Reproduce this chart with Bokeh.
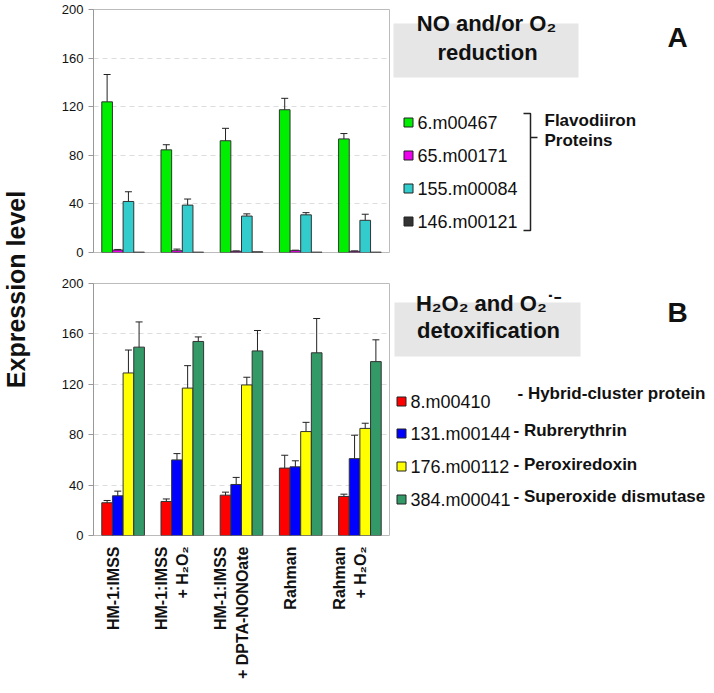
import math
from bokeh.plotting import figure
from bokeh.models import Range1d, ColumnDataSource, Whisker, TeeHead, FixedTicker
from bokeh.layouts import row, column
from bokeh.core.properties import value
from bokeh.embed import file_html
from bokeh.resources import INLINE

# ---------------- data ----------------
conditions = [["HM-1:IMSS"],
              ["HM-1:IMSS", "+ H\u2082O\u2082"],
              ["HM-1:IMSS", "+ DPTA-NONOate"],
              ["Rahman"],
              ["Rahman", "+ H\u2082O\u2082"]]

ids_a = ["6.m00467", "65.m00171", "155.m00084", "146.m00121"]
colors_a = ["#00ee00", "#ee00ee", "#33cccc", "#333333"]
a_6m00467 = [124, 84.5, 92, 117.5, 93.5]
a_6m00467_err = [22.5, 4.2, 10.2, 9.4, 4.4]
a_65m00171 = [2, 1.5, 1, 1.5, 1]
a_65m00171_err = [0.5, 1.3, 0.3, 0.4, 0.3]
a_155m00084 = [42, 39, 30, 31, 26.5]
a_155m00084_err = [8, 5, 1.8, 1.8, 5]
a_146m00121 = [0.3, 0.3, 0.6, 0.3, 0.3]
a_146m00121_err = [0, 0, 0, 0, 0]
series_a = [(a_6m00467, a_6m00467_err), (a_65m00171, a_65m00171_err),
            (a_155m00084, a_155m00084_err), (a_146m00121, a_146m00121_err)]

ids_b = ["8.m00410", "131.m00144", "176.m00112", "384.m00041"]
desc_b = ["- Hybrid-cluster protein", "- Rubrerythrin", "- Peroxiredoxin", "- Superoxide dismutase"]
colors_b = ["#ff0000", "#0000ff", "#ffff00", "#339966"]
b_8m00410 = [26, 27, 32, 53.5, 31]
b_8m00410_err = [1.8, 2, 2.4, 10.2, 1.8]
b_131m00144 = [31.5, 60, 40.5, 54.5, 61]
b_131m00144_err = [3.7, 5, 5.6, 4.8, 18.6]
b_176m00112 = [129, 117, 119.5, 82.5, 85]
b_176m00112_err = [18.2, 17.8, 6.1, 7.3, 4.1]
b_384m00041 = [149.5, 154, 146.5, 145, 138]
b_384m00041_err = [20, 3.6, 16.2, 27.2, 17.3]
series_b = [(b_8m00410, b_8m00410_err), (b_131m00144, b_131m00144_err),
            (b_176m00112, b_176m00112_err), (b_384m00041, b_384m00041_err)]

y_ticks = [0, 40, 80, 120, 160, 200]

FONT = "Liberation Sans"
BAR_W = 0.18
LEFT_W = 34
PLOT_W = 356
SIDE_W = 316


def bar_panel(height, top_border, bottom_border, series, colors):
    p = figure(width=PLOT_W, height=height, x_range=Range1d(0, 5), y_range=Range1d(0, 200),
               toolbar_location=None, output_backend="svg",
               min_border_left=59, min_border_right=1,
               min_border_top=top_border, min_border_bottom=bottom_border)
    p.xaxis.visible = False
    p.xgrid.visible = False
    p.outline_line_color = "#bbbbbb"
    p.yaxis.ticker = FixedTicker(ticks=y_ticks)
    p.yaxis.axis_line_color = "#999999"
    p.yaxis.major_tick_line_color = "#999999"
    p.yaxis.major_tick_out = 5
    p.yaxis.major_tick_in = 0
    p.yaxis.minor_tick_line_color = None
    p.yaxis.major_label_standoff = 5
    p.yaxis.major_label_text_font = FONT
    p.yaxis.major_label_text_font_size = "13px"
    p.yaxis.major_label_text_color = "#111111"
    p.ygrid.grid_line_color = "#dddddd"
    p.ygrid.grid_line_dash = "5 4"
    n = len(series)
    for k, ((vals, errs), col) in enumerate(zip(series, colors)):
        xs = [i + 0.5 + (k - (n - 1) / 2) * BAR_W for i in range(len(vals))]
        src = ColumnDataSource(dict(x=xs, top=vals,
                                    upper=[v + e for v, e in zip(vals, errs)],
                                    lower=[v - e for v, e in zip(vals, errs)]))
        p.vbar(x="x", top="top", width=BAR_W, source=src, fill_color=col,
               line_color="#333333", line_width=1)
        if any(e > 0 for e in errs):
            w = Whisker(base="x", upper="upper", lower="lower", source=src,
                        line_color="#222222", line_width=1,
                        upper_head=TeeHead(size=7, line_color="#222222", line_width=1),
                        lower_head=TeeHead(size=7, line_color="#222222", line_width=1))
            p.add_layout(w)
    return p


pA = bar_panel(268, 9, 16, series_a, colors_a)
pB = bar_panel(276, 15, 9, series_b, colors_b)

# condition labels below panel B (shares the x scale of panel B)
xlab = figure(width=PLOT_W, height=141, x_range=pB.x_range, y_range=Range1d(141, 0),
              toolbar_location=None, output_backend="svg",
              min_border_left=59, min_border_right=1, min_border_top=0, min_border_bottom=0)
xlab.axis.visible = False
xlab.grid.visible = False
xlab.outline_line_color = None
lx, ly, lt = [], [], []
for i, lines in enumerate(conditions):
    n = len(lines)
    for j, line in enumerate(lines):
        lx.append(i + 0.5 - 0.17 + (j - (n - 1) / 2) * 0.36)
        ly.append(2)
        lt.append(line)
xlab.text(x=lx, y=ly, text=lt, angle=math.pi / 2, text_font=value(FONT),
          text_font_size="16px", text_font_style="bold", text_align="right",
          text_baseline="middle", text_color="#111111")


def side_fig(width, height):
    f = figure(width=width, height=height, x_range=Range1d(0, width), y_range=Range1d(height, 0),
               toolbar_location=None, output_backend="svg", min_border=0)
    f.axis.visible = False
    f.grid.visible = False
    f.outline_line_color = None
    return f


# y axis title
ylab = side_fig(LEFT_W, 685)
ylab.text(x=[15], y=[289], text=["Expression level"], angle=math.pi / 2,
          text_font=value(FONT), text_font_size="25px", text_font_style="bold",
          text_align="center", text_baseline="middle", text_color="#111111")

# legend A
lA = side_fig(SIDE_W, 268)
lA.quad(left=[3], right=[188], top=[23], bottom=[77], fill_color="#e6e6e6", line_color=None)
lA.text(x=[96, 97], y=[23, 52], text=["NO and/or O\u2082", "reduction"],
        text_font=value(FONT), text_font_size="22px", text_font_style="bold",
        text_align="center", text_baseline="alphabetic", text_color="#111111")
lA.text(x=[287], y=[37], text=["A"], text_font=value(FONT), text_font_size="28px",
        text_font_style="bold", text_align="center", text_baseline="alphabetic", text_color="#111111")
rows_a = [122, 155, 188, 221]
lA.rect(x=[18] * 4, y=rows_a, width=9, height=9, fill_color=colors_a, line_color="#222222")
lA.text(x=[27] * 4, y=rows_a, text=ids_a, text_font=value(FONT), text_font_size="18px",
        text_align="left", text_baseline="middle", text_color="#111111")
lA.multi_line(xs=[[133, 140, 140, 133], [140, 147]], ys=[[113, 113, 230, 230], [137, 137]],
              line_color="#222222", line_width=1.5)
lA.text(x=[154, 154], y=[120, 140], text=["Flavodiiron", "Proteins"], text_font=value(FONT),
        text_font_size="17px", text_font_style="bold", text_align="left", text_baseline="middle",
        text_color="#111111")

# legend B
lB = side_fig(SIDE_W, 417)
lB.quad(left=[4], right=[190], top=[34], bottom=[88], fill_color="#e6e6e6", line_color=None)
lB.text(x=[98, 98], y=[35, 62], text=["H\u2082O\u2082 and O\u2082\u02d9\u207b", "detoxification"],
        text_font=value(FONT), text_font_size="22px", text_font_style="bold",
        text_align="center", text_baseline="alphabetic", text_color="#111111")
lB.text(x=[287], y=[44], text=["B"], text_font=value(FONT), text_font_size="28px",
        text_font_style="bold", text_align="center", text_baseline="alphabetic", text_color="#111111")
rows_b = [133, 165, 198, 231]
lB.rect(x=[11] * 4, y=rows_b, width=9, height=9, fill_color=colors_b, line_color="#222222")
lB.text(x=[20] * 4, y=rows_b, text=ids_b, text_font=value(FONT), text_font_size="18px",
        text_align="left", text_baseline="middle", text_color="#111111")
lB.text(x=[127, 123, 123, 123], y=[125, 162, 196, 228], text=desc_b, text_font=value(FONT),
        text_font_size="17px", text_font_style="bold", text_align="left", text_baseline="middle",
        text_color="#111111")

layout = row(ylab, column(pA, pB, xlab), column(lA, lB))
open("out.html", "w").write(file_html(layout, INLINE))
